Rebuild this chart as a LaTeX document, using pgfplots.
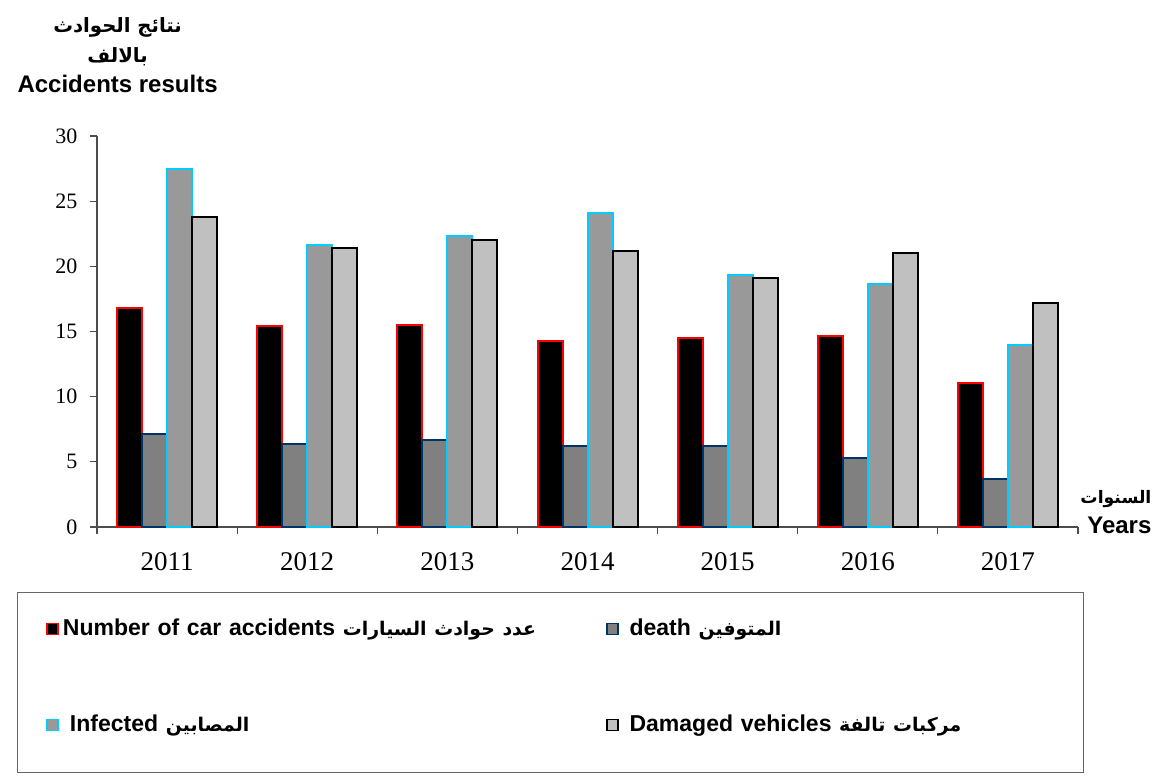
\documentclass[border=0pt]{standalone}
\usepackage{fontspec}
\usepackage{pgfplots}
\usepackage{pgfplotstable}
\pgfplotsset{compat=1.18}
\setmainfont{Liberation Serif}
\newfontfamily\arial{Liberation Sans}
\newfontfamily\arabicfont[Script=Arabic, Scale=0.82]{DejaVu Sans}
\TeXXeTstate=1
\newcommand{\ar}[1]{{\arabicfont\beginR #1\endR}}

\definecolor{accedge}{RGB}{255,0,0}
\definecolor{deathfill}{RGB}{128,128,128}
\definecolor{deathedge}{RGB}{0,51,102}
\definecolor{injfill}{RGB}{153,153,153}
\definecolor{injedge}{RGB}{0,204,255}
\definecolor{vehfill}{RGB}{192,192,192}

% accidents results in thousands, 2011-2017 at x = 0..6
\pgfplotstableread{
x  acc    death  inj    veh
0  16.8   7.1    27.5   23.8
1  15.4   6.4    21.6   21.4
2  15.5   6.7    22.3   22.0
3  14.3   6.2    24.1   21.2
4  14.5   6.2    19.3   19.1
5  14.65  5.3    18.65  21.0
6  11.05  3.7    14.0   17.2
}\results

\begin{document}
\begin{tikzpicture}
\useasboundingbox (-48.5pt,-127pt) rectangle (532pt,263.5pt);
\begin{axis}[
    width=490.5pt, height=195.5pt, scale only axis,
    xmin=-0.5, xmax=6.5, ymin=0, ymax=30,
    enlargelimits=false,
    ybar=0pt, bar width=12.5pt,
    axis x line*=bottom, axis y line*=left,
    axis line style={black!70, line width=0.6pt},
    tick style={black!70, line width=0.6pt},
    tick align=outside, major tick length=3.5pt,
    ytick={0,5,...,30},
    yticklabel style={font=\fontsize{11}{13}\selectfont, xshift=-2.8pt},
    /pgf/number format/assume math mode=true,
    xtick={-0.5,0.5,...,6.5}, xticklabels={},
    extra x ticks={0,1,2,3,4,5,6},
    extra x tick labels={2011,2012,2013,2014,2015,2016,2017},
    extra x tick style={major tick length=0pt,
        tick label style={font=\fontsize{13.5}{15}\selectfont, yshift=-9pt}},
    xlabel={{\fontsize{10.5}{13}\selectfont\ar{السنوات}}\\Years},
    xlabel style={at={(axis description cs:1.082,0.038)}, anchor=east,
        align=right, font=\arial\bfseries\fontsize{12}{15}\selectfont},
    ylabel={\ar{نتائج الحوادث}\\\ar{بالالف}\\Accidents results},
    ylabel style={rotate=-90, at={(axis description cs:0.021,1.207)}, anchor=center,
        align=center, font=\arial\bfseries\fontsize{12}{15}\selectfont},
    legend columns=2,
    legend cell align=left,
    legend style={draw=none, fill=none, inner sep=0pt,
        at={(axis description cs:-0.052,-0.3836)}, anchor=west,
        row sep=34pt,
        font=\arial\bfseries\fontsize{11.5}{14}\selectfont,
        nodes={text width=269.5pt, align=left}},
    legend image code/.code={\draw[#1,line width=0.8pt] (0pt,-2.75pt) rectangle (5.5pt,2.75pt);},
]
\addplot[fill=black, draw=accedge, line width=1pt] table[x=x, y=acc] {\results};
\addlegendentry{Number of car accidents \ar{عدد حوادث السيارات}}
\addplot[fill=deathfill, draw=deathedge, line width=1pt] table[x=x, y=death] {\results};
\addlegendentry{\hspace*{3.5pt}death \ar{المتوفين}}
\addplot[fill=injfill, draw=injedge, line width=1pt] table[x=x, y=inj] {\results};
\addlegendentry{\hspace*{3.5pt}Infected \ar{المصابين}}
\addplot[fill=vehfill, draw=black, line width=1pt] table[x=x, y=veh] {\results};
\addlegendentry{\hspace*{3.5pt}Damaged vehicles \ar{مركبات تالفة}}
\end{axis}
% legend frame
\draw[black!60, line width=0.5pt] (-39.5pt,-32.5pt) rectangle (493pt,-122.5pt);
\end{tikzpicture}
\end{document}
